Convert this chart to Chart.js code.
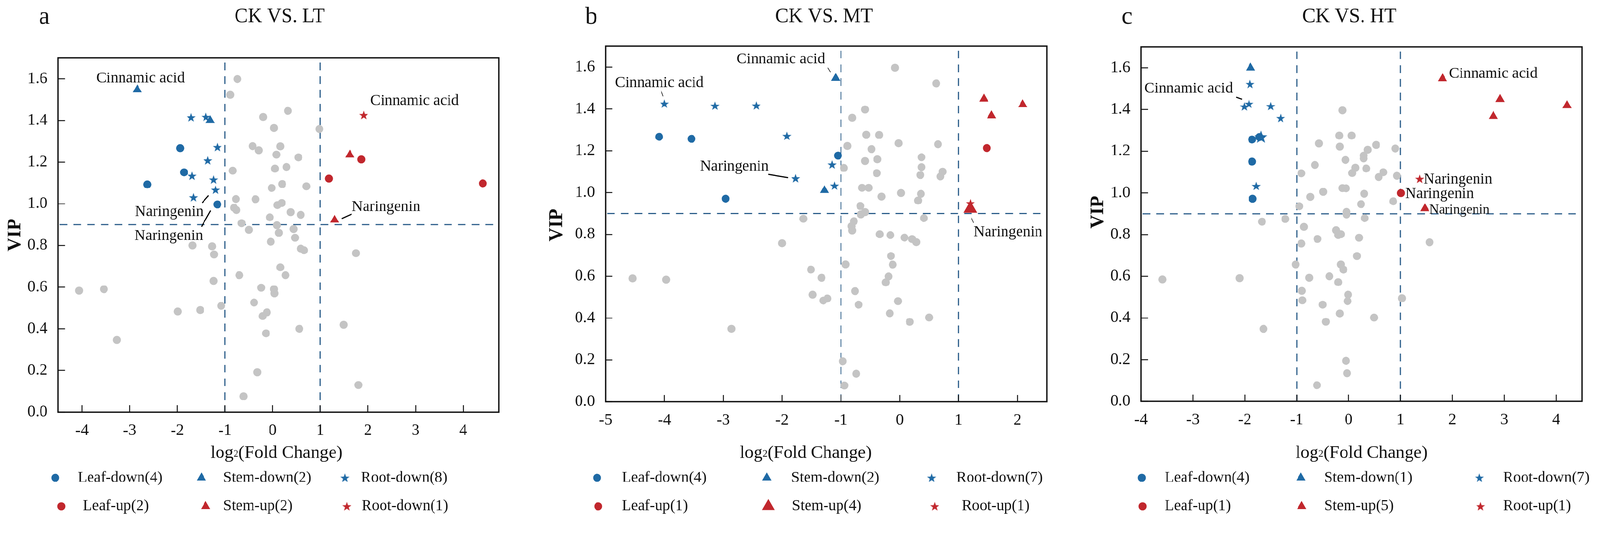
<!DOCTYPE html>
<html>
<head>
<meta charset="utf-8">
<script src="https://cdn.jsdelivr.net/npm/chart.js@4.4.1/dist/chart.umd.min.js"></script>
<style>
  html, body { margin: 0; padding: 0; background: #fff; overflow: hidden; }
  #wrap { position: relative; width: 4194px; height: 1377px; transform-origin: 0 0; }
  canvas { position: absolute; top: 0; }
</style>
</head>
<body>
<div id="wrap">
  <canvas id="pa" width="1398" height="1377" style="left:0px"></canvas>
  <canvas id="pb" width="1398" height="1377" style="left:1398px"></canvas>
  <canvas id="pc" width="1398" height="1377" style="left:2796px"></canvas>
</div>
<script>
// fit the 4194-wide layout to the real viewport width
const fit = window.innerWidth / 4194;
if (Math.abs(fit - 1) > 0.002) document.getElementById('wrap').style.transform = 'scale(' + fit + ')';

// ---- tick values / labels ----
const yTicks = [0, 0.2, 0.4, 0.6, 0.8, 1.0, 1.2, 1.4, 1.6];
const yLabels = ['0.0', '0.2', '0.4', '0.6', '0.8', '1.0', '1.2', '1.4', '1.6'];
const xTicksA = [-4, -3, -2, -1, 0, 1, 2, 3, 4];
const xLabelsA = ['-4', '-3', '-2', '-1', '0', '1', '2', '3', '4'];
const xTicksB = [-5, -4, -3, -2, -1, 0, 1, 2];
const xLabelsB = ['-5', '-4', '-3', '-2', '-1', '0', '1', '2'];
const xTicksC = [-4, -3, -2, -1, 0, 1, 2, 3, 4];
const xLabelsC = ['-4', '-3', '-2', '-1', '0', '1', '2', '3', '4'];

// thresholds
const cutX = [-1, 1];
const cutY = 0.9;

// ---- legend labels ----
const legendA = ['Leaf-down(4)', 'Stem-down(2)', 'Root-down(8)', 'Leaf-up(2)', 'Stem-up(2)', 'Root-down(1)'];
const legendB = ['Leaf-down(4)', 'Stem-down(2)', 'Root-down(7)', 'Leaf-up(1)', 'Stem-up(4)', 'Root-up(1)'];
const legendC = ['Leaf-down(4)', 'Stem-down(1)', 'Root-down(7)', 'Leaf-up(1)', 'Stem-up(5)', 'Root-up(1)'];

// ---- panel a: CK VS. LT  [log2FC, VIP] ----
const a_leafDown = [[-1.94, 1.267], [-1.86, 1.151], [-2.63, 1.093], [-1.16, 0.997]];
const a_stemDown = [[-2.84, 1.548], [-1.31, 1.400]];
const a_rootDown = [[-1.71, 1.415], [-1.40, 1.417], [-1.16, 1.272], [-1.36, 1.208], [-1.69, 1.134], [-1.24, 1.116], [-1.20, 1.067], [-1.66, 1.031]];
const a_leafUp = [[1.18, 1.121], [1.86, 1.213], [4.41, 1.098]];
const a_stemUp = [[1.62, 1.235], [1.30, 0.923]];
const a_rootUp = [[1.91, 1.426]];
const a_grey = [[-0.74, 1.599], [-0.89, 1.523], [0.32, 1.446], [-0.20, 1.417], [0.03, 1.364], [0.98, 1.359], [-0.42, 1.277],
  [0.16, 1.276], [-0.29, 1.257], [0.08, 1.236], [0.54, 1.223], [0.05, 1.169], [0.29, 1.177], [-0.84, 1.159], [0.20, 1.095],
  [-0.02, 1.076], [0.71, 1.084], [-0.77, 1.023], [-0.36, 1.022], [0.19, 1.004], [0.10, 0.994], [-0.81, 0.981], [-0.76, 0.970],
  [0.38, 0.960], [0.59, 0.947], [-0.06, 0.935], [-0.65, 0.907], [0.09, 0.897], [-0.50, 0.875], [0.44, 0.879], [0.13, 0.861],
  [0.47, 0.837], [-1.68, 0.800], [-1.27, 0.796], [-0.04, 0.818], [0.59, 0.785], [0.66, 0.777], [-1.23, 0.757], [1.75, 0.763],
  [0.16, 0.695], [0.27, 0.657], [-0.70, 0.657], [-1.24, 0.630], [-4.06, 0.583], [-3.54, 0.590], [-0.24, 0.597], [0.03, 0.590],
  [0.04, 0.570], [-1.08, 0.510], [-0.39, 0.526], [-1.52, 0.490], [-1.99, 0.483], [-0.12, 0.479], [-0.21, 0.461], [1.49, 0.419],
  [0.56, 0.400], [-0.14, 0.378], [-3.27, 0.346], [-0.32, 0.191], [1.80, 0.130], [-0.61, 0.076]];

// ---- panel b: CK VS. MT ----
const b_leafDown = [[-4.09, 1.267], [-3.54, 1.257], [-1.05, 1.177], [-2.96, 0.971]];
const b_stemDown = [[-1.09, 1.547], [-1.28, 1.011]];
const b_rootDown = [[-4.00, 1.425], [-3.14, 1.415], [-2.44, 1.416], [-1.92, 1.271], [-1.15, 1.134], [-1.77, 1.068], [-1.11, 1.033]];
const b_leafUp = [[1.48, 1.213]];
const b_stemUp = [[1.43, 1.448], [2.09, 1.421], [1.56, 1.368], [1.20, 0.923]];
const b_rootUp = [[1.20, 0.949]];
const b_grey = [[-0.08, 1.597], [0.62, 1.522], [-0.59, 1.397], [-0.81, 1.358], [-0.57, 1.277], [-0.35, 1.276], [-0.02, 1.236],
  [0.65, 1.231], [-0.89, 1.223], [-0.48, 1.208], [0.37, 1.169], [-0.59, 1.151], [-0.38, 1.159], [-0.95, 1.118], [0.37, 1.122],
  [-0.39, 1.093], [0.35, 1.084], [0.73, 1.100], [0.69, 1.077], [-0.64, 1.023], [-0.53, 1.023], [0.02, 0.998], [0.36, 0.994],
  [-0.31, 0.981], [0.31, 0.962], [-0.67, 0.936], [-0.59, 0.907], [-0.66, 0.896], [-1.64, 0.875], [0.41, 0.878], [-0.78, 0.863],
  [-0.82, 0.839], [-0.81, 0.819], [-0.34, 0.801], [-0.16, 0.797], [0.08, 0.785], [0.21, 0.778], [0.28, 0.763], [-2.00, 0.758],
  [-0.15, 0.697], [-0.12, 0.656], [-0.92, 0.657], [-1.51, 0.632], [-4.54, 0.590], [-3.97, 0.584], [-0.19, 0.599], [-1.33, 0.593],
  [-0.24, 0.571], [-0.76, 0.529], [-1.48, 0.512], [-1.23, 0.494], [-1.30, 0.484], [-0.03, 0.481], [-0.70, 0.464], [-0.17, 0.423],
  [0.50, 0.403], [0.17, 0.382], [-2.86, 0.349], [-0.97, 0.194], [-0.74, 0.134], [-0.94, 0.078]];

// ---- panel c: CK VS. HT ----
const c_leafDown = [[-1.86, 1.256], [-1.72, 1.268], [-1.86, 1.150], [-1.85, 0.972]];
const c_stemDown = [[-1.89, 1.600]];
const c_rootDown = [[-1.90, 1.522], [-1.92, 1.427], [-2.01, 1.414], [-1.50, 1.416], [-1.31, 1.359], [-1.69, 1.269], [-1.78, 1.033]];
const c_leafUp = [[1.01, 0.999]];
const c_stemUp = [[1.81, 1.548], [2.92, 1.449], [4.21, 1.419], [2.79, 1.368], [1.47, 0.925]];
const c_rootUp = [[1.37, 1.067]];
const c_grey = [[-0.12, 1.396], [-0.18, 1.275], [0.06, 1.275], [-0.57, 1.237], [-0.17, 1.222], [0.53, 1.230], [0.90, 1.213],
  [0.37, 1.207], [0.29, 1.179], [0.29, 1.165], [-0.06, 1.158], [-0.65, 1.134], [0.13, 1.121], [0.34, 1.117], [0.67, 1.099],
  [0.07, 1.095], [-0.91, 1.094], [0.93, 1.082], [0.58, 1.076], [-0.12, 1.023], [-0.05, 1.022], [-0.49, 1.005], [0.30, 0.996],
  [-0.74, 0.981], [0.86, 0.960], [0.24, 0.946], [-0.95, 0.936], [-0.04, 0.909], [-0.04, 0.896], [-1.67, 0.862], [-1.22, 0.875],
  [0.31, 0.879], [-0.86, 0.837], [-0.24, 0.821], [-0.20, 0.798], [-0.15, 0.802], [0.20, 0.785], [-0.60, 0.779], [1.56, 0.763],
  [-0.91, 0.757], [0.16, 0.697], [-1.02, 0.657], [-0.15, 0.657], [-0.10, 0.632], [-3.59, 0.585], [-2.10, 0.591], [-0.76, 0.593],
  [-0.37, 0.600], [-0.20, 0.572], [-0.90, 0.530], [-0.01, 0.512], [1.03, 0.495], [-0.89, 0.485], [-0.02, 0.481], [-0.50, 0.464],
  [-0.17, 0.422], [0.49, 0.402], [-0.44, 0.382], [-1.64, 0.348], [-0.05, 0.195], [-0.03, 0.135], [-0.61, 0.078]];

// ---- annotations: [text, x, y(baseline), fontSize] and leader lines [x1, y1, x2, y2, width] ----
const notesA = [['Cinnamic acid', -3.70, 1.583, 40], ['Cinnamic acid', 2.05, 1.474, 40],
  ['Naringenin', -2.89, 0.941, 40], ['Naringenin', -2.90, 0.826, 40], ['Naringenin', 1.66, 0.965, 40]];
const leadersA = [[-1.48, 1.005, -1.343, 1.040, 3], [-1.494, 0.890, -1.30, 0.9675, 3], [1.45, 0.929, 1.66, 0.951, 3]];
const notesB = [['Cinnamic acid', -2.775, 1.618, 40], ['Cinnamic acid', -4.84, 1.505, 40],
  ['Naringenin', -3.395, 1.106, 40], ['Naringenin', 1.257, 0.791, 40]];
const leadersB = [[-1.222, 1.597, -1.176, 1.576, 1.5], [-4.056, 1.486, -4.021, 1.460, 1.5],
  [-2.236, 1.087, -1.900, 1.071, 3], [1.217, 0.881, 1.257, 0.855, 1.5]];
const notesC = [['Cinnamic acid', -3.937, 1.481, 40], ['Cinnamic acid', 1.936, 1.551, 40],
  ['Naringenin', 1.445, 1.044, 40], ['Naringenin', 1.092, 0.976, 40], ['Naringenin', 1.557, 0.900, 35]];
const leadersC = [[-2.165, 1.459, -2.054, 1.449, 3]];

// ---- styles ----
const BLUE = '#1f6aa5';
const RED = '#c1272d';
const GREY = '#c4c4c4';
const DASH = '#2c5e8a';
const FONT = 'Liberation Serif';

function starCanvas(color, R) {
  const s = Math.ceil(R * 2 + 4);
  const c = document.createElement('canvas');
  c.width = s; c.height = s;
  const g = c.getContext('2d');
  g.fillStyle = color;
  g.beginPath();
  for (let k = 0; k < 10; k++) {
    const ang = -Math.PI / 2 + k * Math.PI / 5;
    const rr = k % 2 ? R * 0.4 : R;
    g.lineTo(s / 2 + rr * Math.cos(ang), s / 2 + rr * Math.sin(ang) + R * 0.08);
  }
  g.closePath();
  g.fill();
  return c;
}
const starBlue = starCanvas(BLUE, 12.5);
const starRed = starCanvas(RED, 12.5);
const starBlueBig = starCanvas(BLUE, 18);

const pts = arr => arr.map(p => ({ x: p[0], y: p[1] }));

function makeDatasets(g, opts) {
  const bigTri = opts.bigTri, bigStar = opts.bigStar;
  return [
    { label: 'grey', data: pts(g.grey), pointStyle: 'circle', pointRadius: 10.5, backgroundColor: GREY, order: 10 },
    { label: 'leafDown', data: pts(g.leafDown), pointStyle: 'circle', pointRadius: 10.5, backgroundColor: BLUE, order: 5 },
    { label: 'leafUp', data: pts(g.leafUp), pointStyle: 'circle', pointRadius: 10.5, backgroundColor: RED, order: 5 },
    { label: 'stemDown', data: pts(g.stemDown), pointStyle: 'triangle', pointRadius: 14, backgroundColor: BLUE, order: 3 },
    { label: 'stemUp', data: pts(g.stemUp), pointStyle: 'triangle',
      pointRadius: ctx => (ctx.dataIndex === bigTri ? 21 : 14), backgroundColor: RED, order: 3 },
    { label: 'rootDown', data: pts(g.rootDown),
      pointStyle: ctx => (ctx.dataIndex === bigStar ? starBlueBig : starBlue), pointRadius: 12, backgroundColor: BLUE, order: 1 },
    { label: 'rootUp', data: pts(g.rootUp), pointStyle: starRed, pointRadius: 12, backgroundColor: RED, order: 1 }
  ].map(d => Object.assign(d, { pointBorderWidth: 0, borderWidth: 0, pointHoverRadius: d.pointRadius }));
}

function drawMarker(ctx, kind, color, x, y, size) {
  ctx.fillStyle = color;
  if (kind === 'circle') {
    ctx.beginPath(); ctx.arc(x, y, size, 0, Math.PI * 2); ctx.fill();
  } else if (kind === 'triangle') {
    ctx.beginPath();
    for (let k = 0; k < 3; k++) {
      const a = k * 2 * Math.PI / 3;
      ctx.lineTo(x + Math.sin(a) * size, y - Math.cos(a) * size);
    }
    ctx.closePath(); ctx.fill();
  } else {
    const img = color === BLUE ? starBlue : starRed;
    ctx.drawImage(img, x - img.width / 2, y - img.height / 2);
  }
}

function panelPlugin(p) {
  return {
    id: 'panel_' + p.letter,
    beforeDatasetsDraw(chart) {
      const { ctx, chartArea: ca, scales: { x, y } } = chart;
      ctx.save();
      ctx.beginPath();
      ctx.rect(ca.left, ca.top, ca.right - ca.left, ca.bottom - ca.top);
      ctx.clip();
      ctx.strokeStyle = DASH;
      ctx.lineWidth = 3;
      ctx.setLineDash([20, 16]);
      cutX.forEach(v => {
        const px = x.getPixelForValue(v);
        ctx.beginPath(); ctx.moveTo(px, ca.top + 12); ctx.lineTo(px, ca.bottom); ctx.stroke();
      });
      const py = y.getPixelForValue(cutY);
      ctx.beginPath(); ctx.moveTo(ca.left + 4, py); ctx.lineTo(ca.right, py); ctx.stroke();
      ctx.restore();
    },
    afterDatasetsDraw(chart) {
      const { ctx, scales: { x, y } } = chart;
      ctx.save();
      ctx.strokeStyle = '#000';
      p.leaders.forEach(l => {
        ctx.lineWidth = l[4];
        ctx.beginPath();
        ctx.moveTo(x.getPixelForValue(l[0]), y.getPixelForValue(l[1]));
        ctx.lineTo(x.getPixelForValue(l[2]), y.getPixelForValue(l[3]));
        ctx.stroke();
      });
      ctx.fillStyle = '#111';
      ctx.textAlign = 'left';
      ctx.textBaseline = 'alphabetic';
      p.notes.forEach(n => {
        ctx.font = n[3] + 'px "' + FONT + '"';
        ctx.fillText(n[0], x.getPixelForValue(n[1]), y.getPixelForValue(n[2]));
      });
      ctx.restore();
    },
    afterDraw(chart) {
      const { ctx, chartArea: ca, scales: { x, y } } = chart;
      ctx.save();
      // frame
      ctx.strokeStyle = '#111';
      ctx.lineWidth = 3.5;
      ctx.strokeRect(ca.left, ca.top, ca.right - ca.left, ca.bottom - ca.top);
      // inward ticks
      ctx.lineWidth = 2.5;
      x.ticks.forEach(t => {
        const px = x.getPixelForValue(t.value);
        ctx.beginPath(); ctx.moveTo(px, ca.bottom); ctx.lineTo(px, ca.bottom - 18); ctx.stroke();
      });
      y.ticks.forEach(t => {
        const py = y.getPixelForValue(t.value);
        ctx.beginPath(); ctx.moveTo(ca.left, py); ctx.lineTo(ca.left + 18, py); ctx.stroke();
      });
      ctx.fillStyle = '#111';
      // panel letter and title
      ctx.textBaseline = 'alphabetic';
      ctx.textAlign = 'left';
      ctx.font = '64px "' + FONT + '"';
      ctx.fillText(p.letter, p.letterX, 62);
      ctx.textAlign = 'center';
      ctx.font = '52px "' + FONT + '"';
      ctx.fillText(p.title, p.titleX, 58);
      // y-axis title
      ctx.save();
      ctx.translate(p.ylabX, p.ylabY);
      ctx.rotate(-Math.PI / 2);
      ctx.textBaseline = 'middle';
      ctx.font = 'bold 50px "' + FONT + '"';
      ctx.fillText('VIP', 0, 0);
      ctx.restore();
      // x-axis title: log2(Fold Change) with small 2
      const big = '47px "' + FONT + '"', small = '26px "' + FONT + '"';
      ctx.textAlign = 'left';
      ctx.font = big; const w1 = ctx.measureText('log').width; const w3 = ctx.measureText('(Fold Change)').width;
      ctx.font = small; const w2 = ctx.measureText('2').width;
      let sx = p.xlabX - (w1 + w2 + w3) / 2;
      ctx.font = big; ctx.fillText('log', sx, 1200);
      ctx.font = small; ctx.fillText('2', sx + w1, 1197);
      ctx.font = big; ctx.fillText('(Fold Change)', sx + w1 + w2, 1200);
      // legend
      const kinds = ['circle', 'triangle', 'star', 'circle', 'triangle', 'star'];
      const cols = [BLUE, BLUE, BLUE, RED, RED, RED];
      ctx.font = '40px "' + FONT + '"';
      p.legendPos.forEach((lp, i) => {
        const row = i < 3 ? 0 : 1;
        const my = row ? 1327 : 1252;
        let size = kinds[i] === 'circle' ? 10.5 : 14;
        if (i === 4 && p.bigLegendTri) size = 19;
        drawMarker(ctx, kinds[i], cols[i], lp[0], my, size);
        ctx.fillStyle = '#111';
        ctx.fillText(p.legend[i], lp[1], row ? 1337 : 1263);
      });
      ctx.restore();
    }
  };
}

const panels = [
  { id: 'pa', letter: 'a', title: 'CK VS. LT', xMin: -4.5, xMax: 4.75, xTicks: xTicksA, xLabels: xLabelsA,
    pad: { left: 32.5, right: 90, top: 152, bottom: 197 }, letterX: 102, titleX: 733, ylabX: 40, ylabY: 616, xlabX: 725,
    groups: { grey: a_grey, leafDown: a_leafDown, leafUp: a_leafUp, stemDown: a_stemDown, stemUp: a_stemUp, rootDown: a_rootDown, rootUp: a_rootUp },
    opts: { bigTri: -1, bigStar: -1 }, bigLegendTri: false,
    legend: legendA, legendPos: [[145, 204], [528, 585], [904, 946], [161, 217], [539, 585], [909, 948]],
    notes: notesA, leaders: leadersA },
  { id: 'pb', letter: 'b', title: 'CK VS. MT', xMin: -5, xMax: 2.5, xTicks: xTicksB, xLabels: xLabelsB,
    pad: { left: 69.5, right: 52, top: 121, bottom: 224 }, letterX: 136, titleX: 762, ylabX: 62, ylabY: 590, xlabX: 714,
    groups: { grey: b_grey, leafDown: b_leafDown, leafUp: b_leafUp, stemDown: b_stemDown, stemUp: b_stemUp, rootDown: b_rootDown, rootUp: b_rootUp },
    opts: { bigTri: 3, bigStar: -1 }, bigLegendTri: true,
    legend: legendB, legendPos: [[167, 232], [612, 676], [1044, 1109], [170, 232], [616, 678], [1052, 1123]],
    notes: notesB, leaders: leadersB },
  { id: 'pc', letter: 'c', title: 'CK VS. HT', xMin: -4, xMax: 4.5, xTicks: xTicksC, xLabels: xLabelsC,
    pad: { left: 75, right: 47, top: 123, bottom: 225 }, letterX: 144, titleX: 741, ylabX: 83, ylabY: 556, xlabX: 773,
    groups: { grey: c_grey, leafDown: c_leafDown, leafUp: c_leafUp, stemDown: c_stemDown, stemUp: c_stemUp, rootDown: c_rootDown, rootUp: c_rootUp },
    opts: { bigTri: -1, bigStar: 5 }, bigLegendTri: false,
    legend: legendC, legendPos: [[197, 257], [614, 675], [1082, 1144], [199, 257], [616, 675], [1085, 1144]],
    notes: notesC, leaders: leadersC }
];

panels.forEach(p => {
  new Chart(document.getElementById(p.id), {
    type: 'scatter',
    data: { datasets: makeDatasets(p.groups, p.opts) },
    options: {
      responsive: false,
      animation: false,
      events: [],
      layout: { padding: p.pad },
      plugins: { legend: { display: false }, tooltip: { enabled: false } },
      scales: {
        x: {
          type: 'linear', position: 'bottom', min: p.xMin, max: p.xMax,
          grid: { display: false }, border: { display: false },
          afterBuildTicks: s => { s.ticks = p.xTicks.map(v => ({ value: v })); },
          afterFit: s => { s.height = 100; },
          ticks: { autoSkip: false, maxRotation: 0, padding: 16, color: '#111',
            font: { family: FONT, size: 42 }, callback: (v, i) => p.xLabels[i] }
        },
        y: {
          type: 'linear', position: 'left', min: 0, max: 1.7,
          grid: { display: false }, border: { display: false },
          afterBuildTicks: s => { s.ticks = yTicks.map(v => ({ value: v })); },
          afterFit: s => { s.width = 120; },
          ticks: { autoSkip: false, padding: 20, color: '#111',
            font: { family: FONT, size: 42 }, callback: (v, i) => yLabels[i] }
        }
      }
    },
    plugins: [panelPlugin(p)]
  });
});
</script>
</body>
</html>
